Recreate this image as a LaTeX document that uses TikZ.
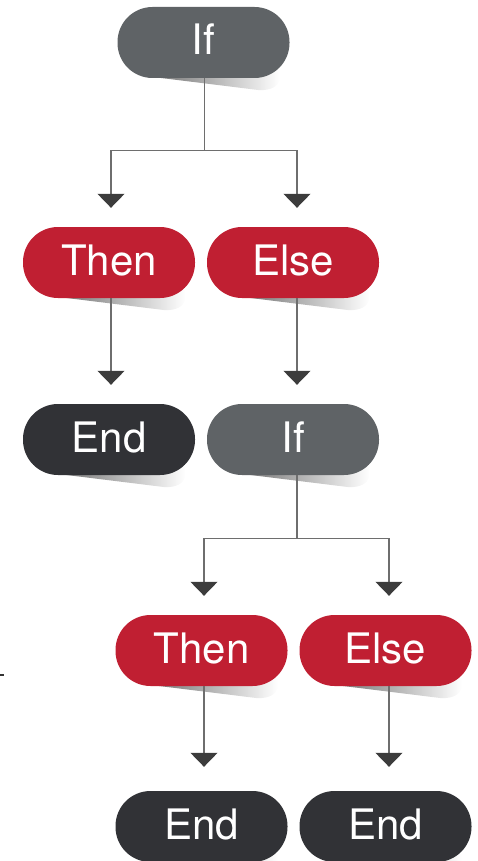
\documentclass[tikz,border=0pt]{standalone}
\usepackage{fontspec}
\setmainfont{TeX Gyre Heros}
\usetikzlibrary{arrows.meta,calc,backgrounds,fadings}
\definecolor{ifc}{HTML}{5F6366}
\definecolor{redc}{HTML}{C01F32}
\definecolor{endc}{HTML}{313236}
\definecolor{linec}{HTML}{6E6E6E}
\definecolor{tipc}{HTML}{3C3C3C}
\tikzset{
  pill/.style={rectangle, rounded corners=35pt, minimum width=172pt, minimum height=71pt,
    inner sep=0pt, text=white, font=\fontsize{42}{42}\selectfont, text height=31pt, text depth=6pt},
  ifbox/.style={pill, fill=ifc},
  branchbox/.style={pill, fill=redc},
  endbox/.style={pill, fill=endc},
  conn/.style={draw=linec, line width=1.1pt, -{Triangle[width=27pt,length=14pt,color=tipc]}},
}
\newcommand\pillshadow[1]{%
  \fill[black, opacity=.55, path fading=east]
    ($(#1.south east)+(-135,-1)$) -- ($(#1.south east)+(-30,12)$)
    .. controls ($(#1.south east)+(-18,12)$) and ($(#1.south east)+(-12,8)$) .. ($(#1.south east)+(-10,2)$)
    -- ($(#1.south east)+(-10,-8)$) -- ($(#1.south east)+(-135,-8)$) -- cycle;}
\begin{document}
\begin{tikzpicture}[x=1pt,y=-1pt]
\useasboundingbox (0,0) rectangle (477,861);
\node[ifbox] (if1) at (203.5,42.5) {If};
\node[branchbox] (then1) at (109,262.5) {Then};
\node[branchbox] (else1) at (293,262.5) {Else};
\node[endbox] (end1) at (109,439.5) {End};
\node[ifbox] (if2) at (293,439.5) {If};
\node[branchbox] (then2) at (201.5,650.5) {Then};
\node[branchbox] (else2) at (385.5,650.5) {Else};
\node[endbox] (end2) at (201.5,826.5) {End};
\node[endbox] (end3) at (385.5,826.5) {End};
\begin{scope}[on background layer]
\foreach \n in {if1,then1,else1,end1,if2,then2,else2,end2,end3} {\pillshadow{\n}}
\end{scope}
\draw[conn, shorten >=19pt] ([xshift=1]if1.south) -- ++(0,72) -| ([xshift=2]then1.north);
\draw[conn, shorten >=19pt] ([xshift=1]if1.south) -- ++(0,72) -| ([xshift=4]else1.north);
\draw[conn, shorten >=19pt] ([xshift=2]then1.south) -- ([xshift=2]end1.north);
\draw[conn, shorten >=19pt] ([xshift=4]else1.south) -- ([xshift=4]if2.north);
\draw[conn, shorten >=19pt] ([xshift=4]if2.south) -- ++(0,63) -| ([xshift=2.5]then2.north);
\draw[conn, shorten >=19pt] ([xshift=4]if2.south) -- ++(0,63) -| ([xshift=3.5]else2.north);
\draw[conn, shorten >=24pt] ([xshift=2.5]then2.south) -- ([xshift=2.5]end2.north);
\draw[conn, shorten >=24pt] ([xshift=3.5]else2.south) -- ([xshift=3.5]end3.north);
\draw[line width=1.5pt, black!80] (0,675) -- (4,675);
\end{tikzpicture}
\end{document}
